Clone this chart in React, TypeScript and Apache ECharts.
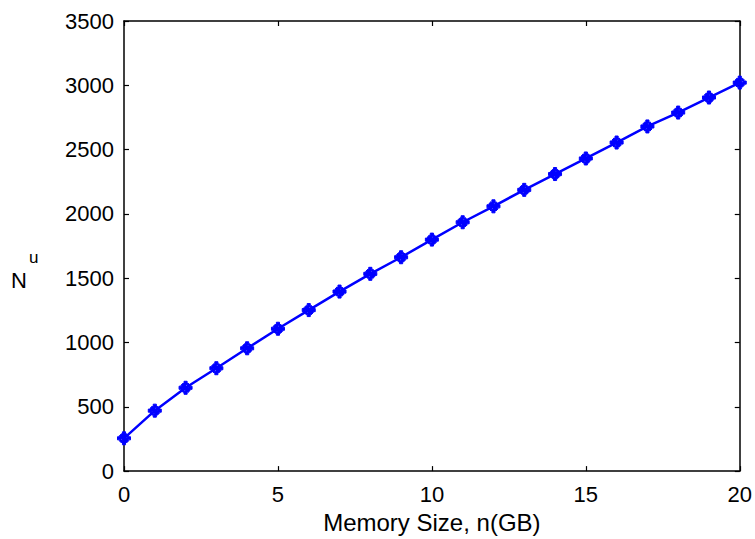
import React, { useEffect, useRef } from "react";
import * as echarts from "echarts";

const memorySizes = [0, 1, 2, 3, 4, 5, 6, 7, 8, 9, 10, 11, 12, 13, 14, 15, 16, 17, 18, 19, 20];
const nuValues = [255, 470, 648, 800, 955, 1107, 1252, 1396, 1534, 1663, 1800, 1935, 2059, 2187, 2310, 2431, 2555, 2680, 2788, 2905, 3021];
const xAxisName = "Memory Size, n(GB)";
const yAxisMain = "N";
const yAxisSup = "u";

const starPath =
  "path://M-1.2,-5L1.2,-5L1.2,5L-1.2,5Z M-5,-1.2L5,-1.2L5,1.2L-5,1.2Z M3.6,1.9L1.9,3.6L-3.6,-1.9L-1.9,-3.6Z M-3.6,1.9L-1.9,3.6L3.6,-1.9L1.9,-3.6Z";

export default function App() {
  const ref = useRef<HTMLDivElement>(null);
  useEffect(() => {
    if (!ref.current) return;
    const chart = echarts.init(ref.current, null, { renderer: "svg" });
    const font = "'Liberation Sans', Arial, sans-serif";
    const axisCommon = {
      axisLine: { show: true, onZero: false, lineStyle: { color: "#000", width: 1.5 } },
      axisTick: { show: true, inside: true, length: 5, lineStyle: { color: "#000", width: 1.2 } },
      splitLine: { show: false },
    };
    const plain = (v: number) => String(v);
    chart.setOption({
      animation: false,
      backgroundColor: "#fff",
      grid: { left: 124, top: 21, right: 15, bottom: 66, containLabel: false },
      xAxis: [
        {
          type: "value",
          min: 0,
          max: 20,
          interval: 5,
          ...axisCommon,
          axisLabel: { color: "#000", fontSize: 22, fontFamily: font, margin: 12, formatter: plain },
          name: xAxisName,
          nameLocation: "middle",
          nameGap: 38,
          nameTextStyle: { color: "#000", fontSize: 24, fontFamily: font },
        },
        {
          type: "value",
          position: "top",
          min: 0,
          max: 20,
          interval: 5,
          ...axisCommon,
          axisLabel: { show: false },
        },
      ],
      yAxis: [
        {
          type: "value",
          min: 0,
          max: 3500,
          interval: 500,
          ...axisCommon,
          axisLabel: { color: "#000", fontSize: 22, fontFamily: font, margin: 10, formatter: plain },
        },
        {
          type: "value",
          position: "right",
          min: 0,
          max: 3500,
          interval: 500,
          ...axisCommon,
          axisLabel: { show: false },
        },
      ],
      graphic: [
        {
          type: "text",
          left: 11,
          top: 269,
          style: { text: yAxisMain, fill: "#000", font: `22px ${font}` },
        },
        {
          type: "text",
          left: 29,
          top: 249,
          style: { text: yAxisSup, fill: "#000", font: `17px ${font}` },
        },
      ],
      series: [
        {
          type: "line",
          data: memorySizes.map((x, i) => [x, nuValues[i]]),
          smooth: false,
          symbol: starPath,
          symbolSize: 13,
          showAllSymbol: true,
          lineStyle: { color: "#0000ff", width: 2.5 },
          itemStyle: { color: "#0000ff", borderColor: "#0000ff", borderWidth: 1 },
        },
      ],
    });
    return () => chart.dispose();
  }, []);
  return <div ref={ref} style={{ width: 755, height: 539, position: "absolute", left: 0, top: 0 }} />;
}
